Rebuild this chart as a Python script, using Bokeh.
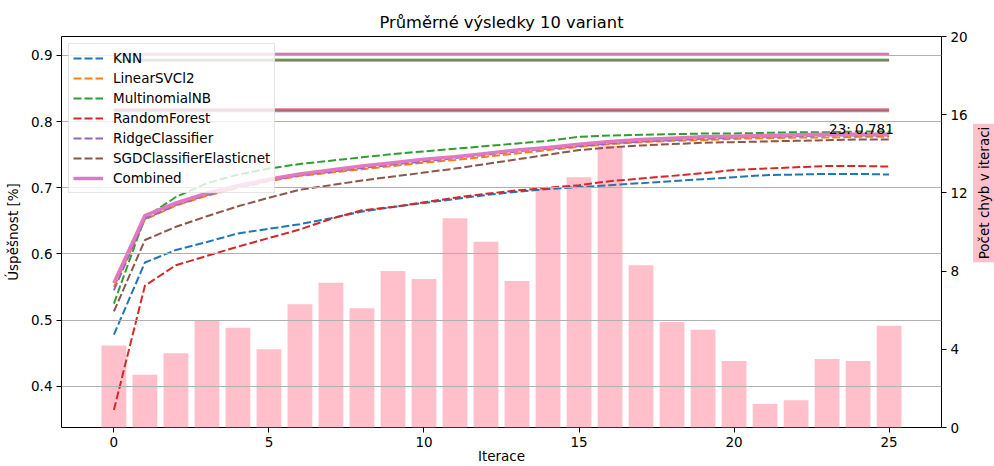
import numpy as np
from bokeh.plotting import figure
from bokeh.layouts import row
from bokeh.models import Range1d, LinearAxis, Label, Legend, LegendItem, FixedTicker
from bokeh.embed import file_html
from bokeh.resources import INLINE
from bokeh.core.properties import value

# ---------------- data ----------------
iterations = list(range(26))

errors = [4.2, 2.7, 3.8, 5.5, 5.1, 4.0, 6.3, 7.4, 6.1, 8.0, 7.6, 10.7, 9.5, 7.5,
          12.2, 12.8, 14.4, 8.3, 5.4, 5.0, 3.4, 1.2, 1.4, 3.5, 3.4, 5.2]

knn = [0.478, 0.587, 0.606, 0.618, 0.631, 0.638, 0.645, 0.654, 0.664, 0.671, 0.677, 0.683, 0.689,
       0.694, 0.698, 0.701, 0.704, 0.707, 0.710, 0.713, 0.716, 0.719, 0.720, 0.721, 0.721, 0.720]
linear_svc = [0.550, 0.652, 0.673, 0.688, 0.700, 0.710, 0.718, 0.723, 0.728, 0.733, 0.738, 0.742, 0.747,
              0.752, 0.757, 0.762, 0.766, 0.769, 0.771, 0.772, 0.774, 0.775, 0.776, 0.776, 0.777, 0.777]
multinomial_nb = [0.525, 0.655, 0.686, 0.707, 0.720, 0.729, 0.736, 0.741, 0.746, 0.751, 0.755, 0.759, 0.763,
                  0.767, 0.771, 0.777, 0.779, 0.780, 0.781, 0.782, 0.782, 0.783, 0.784, 0.784, 0.785, 0.785]
random_forest = [0.364, 0.552, 0.583, 0.597, 0.611, 0.624, 0.637, 0.653, 0.666, 0.671, 0.678, 0.685, 0.691,
                 0.696, 0.700, 0.704, 0.710, 0.714, 0.718, 0.722, 0.727, 0.729, 0.731, 0.733, 0.733, 0.732]
ridge = [0.545, 0.653, 0.674, 0.689, 0.701, 0.711, 0.719, 0.724, 0.730, 0.735, 0.740, 0.745, 0.750,
         0.755, 0.759, 0.763, 0.767, 0.770, 0.772, 0.774, 0.776, 0.777, 0.778, 0.779, 0.779, 0.779]
sgd_elastic = [0.513, 0.621, 0.641, 0.657, 0.672, 0.685, 0.697, 0.704, 0.711, 0.717, 0.723, 0.729, 0.736,
               0.743, 0.750, 0.757, 0.761, 0.764, 0.766, 0.768, 0.769, 0.770, 0.771, 0.772, 0.773, 0.773]
combined = [0.556, 0.658, 0.677, 0.692, 0.703, 0.713, 0.721, 0.727, 0.733, 0.738, 0.743, 0.747, 0.752,
            0.757, 0.761, 0.766, 0.770, 0.773, 0.775, 0.777, 0.778, 0.779, 0.780, 0.781, 0.781, 0.781]

names = ["KNN", "LinearSVCl2", "MultinomialNB", "RandomForest", "RidgeClassifier",
         "SGDClassifierElasticnet", "Combined"]
series = [knn, linear_svc, multinomial_nb, random_forest, ridge, sgd_elastic, combined]
# best (maximum) accuracy of each variant, drawn as horizontal lines
best_values = [0.816, 0.902, 0.8935, 0.8185, 0.902, 0.8925, 0.9025]

left_ticks = [0.4, 0.5, 0.6, 0.7, 0.8, 0.9]
right_ticks = [0, 4, 8, 12, 16, 20]
x_ticks = [0, 5, 10, 15, 20, 25]

colors = ["#1f77b4", "#ff7f0e", "#2ca02c", "#d62728", "#9467bd", "#8c564b", "#e377c2"]
FONT = "DejaVu Sans"
FS = "13.5px"

# ---------------- main figure ----------------
p = figure(width=970, height=466, output_backend="svg", toolbar_location=None,
           x_range=Range1d(-1.69, 26.69), y_range=Range1d(0.3376, 0.9287),
           min_border_left=61, min_border_right=26, min_border_top=36, min_border_bottom=39)
p.extra_y_ranges = {"err": Range1d(0, 20)}

p.title.text = "Průměrné výsledky 10 variant"
p.title.align = "center"
p.title.text_font = FONT
p.title.text_font_size = "16.3px"
p.title.text_font_style = "normal"
p.title.text_color = "black"

p.outline_line_color = "black"
p.outline_line_alpha = 1
p.outline_line_width = 1
p.background_fill_color = "white"
p.border_fill_color = "white"

# bars (behind everything)
p.vbar(x=iterations, top=errors, bottom=0, width=0.8, y_range_name="err",
       fill_color="pink", line_color=None, level="underlay")

# grid above bars, below lines
p.xgrid.visible = False
p.ygrid.ticker = FixedTicker(ticks=left_ticks)
p.ygrid.grid_line_color = "#b0b0b0"
p.ygrid.grid_line_width = 1
p.ygrid.level = "glyph"

# horizontal lines at best values
x0, x1 = iterations[0], iterations[-1]
for c, b in zip(colors, best_values):
    p.line(x=[x0, x1], y=[b, b], line_color=c, line_width=2.5, line_alpha=0.65)

# curves
items = []
for n, s, c in zip(names, series, colors):
    if n == "Combined":
        r = p.line(x=iterations, y=s, line_color=c, line_width=3.5)
    else:
        r = p.line(x=iterations, y=s, line_color=c, line_width=2, line_dash="8 3")
    items.append(LegendItem(label=n, renderers=[r]))

# annotation of the best combined value
best_idx = int(np.argmax(combined))
best_val = combined[best_idx]
p.text(x=[best_idx], y=[best_val], text=[f"{best_idx}: {best_val:.3f}"],
       text_font=value(FONT), text_font_size=FS, text_color="black",
       text_align="left", text_baseline="alphabetic", x_offset=2, y_offset=-5)

# axes
def style_axis(ax):
    ax.axis_line_color = None
    ax.major_tick_line_color = "black"
    ax.major_tick_in = 0
    ax.major_tick_out = 5
    ax.minor_tick_line_color = None
    ax.major_label_text_font = FONT
    ax.major_label_text_font_size = FS
    ax.major_label_text_color = "black"
    ax.major_label_standoff = 4
    ax.axis_label_text_font = FONT
    ax.axis_label_text_font_size = FS
    ax.axis_label_text_font_style = "normal"
    ax.axis_label_text_color = "black"

p.xaxis.ticker = FixedTicker(ticks=x_ticks)
p.yaxis.ticker = FixedTicker(ticks=left_ticks)
p.xaxis.axis_label = "Iterace"
p.yaxis.axis_label = "Úspěšnost [%]"
style_axis(p.xaxis[0])
style_axis(p.yaxis[0])
p.xaxis.axis_label_standoff = -2
p.yaxis.axis_label_standoff = 7

ax2 = LinearAxis(y_range_name="err", ticker=FixedTicker(ticks=right_ticks))
style_axis(ax2)
p.add_layout(ax2, "right")

legend = Legend(items=items, location="top_left")
legend.label_text_font = FONT
legend.label_text_font_size = FS
legend.label_text_color = "black"
legend.border_line_color = "#cccccc"
legend.border_line_width = 1
legend.background_fill_color = "white"
legend.background_fill_alpha = 0.8
legend.margin = 7
legend.padding = 4
legend.spacing = 0
legend.label_height = 20
legend.glyph_height = 20
legend.glyph_width = 30
legend.label_standoff = 10
p.add_layout(legend)

# ---------------- side strip holding the right axis title ----------------
side = figure(width=24, height=466, output_backend="svg", toolbar_location=None,
              x_range=Range1d(0, 1), y_range=Range1d(0, 1),
              min_border_left=0, min_border_right=0, min_border_top=0, min_border_bottom=0)
side.axis.visible = False
side.grid.visible = False
side.outline_line_color = None
side.background_fill_color = "white"
side.border_fill_color = "white"
rlabel = Label(x=13.5, y=234.5, x_units="screen", y_units="screen",
               text="Počet chyb v iteraci", angle=90, angle_units="deg",
               text_font=FONT, text_font_size=FS, text_color="black",
               text_align="center", text_baseline="middle",
               background_fill_color="pink", background_fill_alpha=1, padding=3)
side.add_layout(rlabel)

layout = row(p, side, spacing=0)
open("out.html", "w").write(file_html(layout, INLINE))
